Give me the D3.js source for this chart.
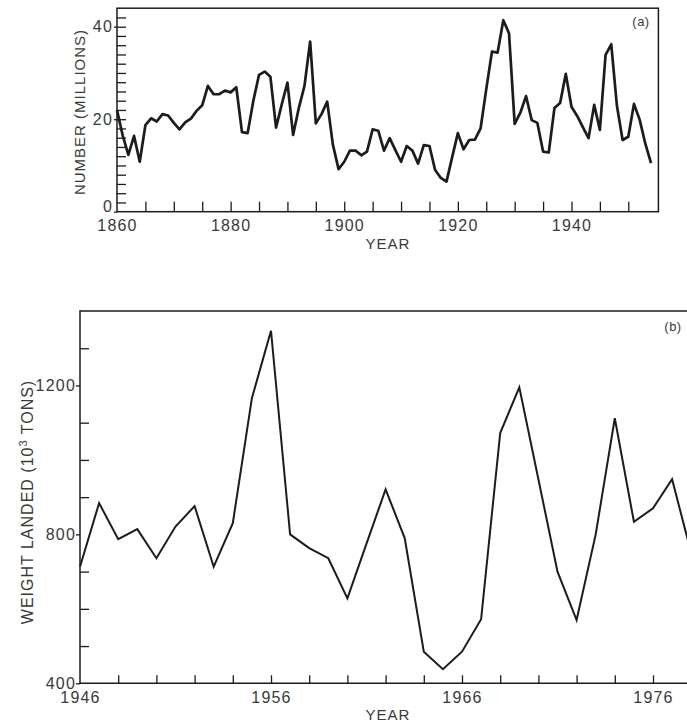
<!DOCTYPE html>
<html><head><meta charset="utf-8">
<script src="https://cdn.jsdelivr.net/npm/d3@7"></script>
<style>
html,body{margin:0;padding:0;background:#fff;}
svg{display:block;}
text{font-family:"Liberation Sans",Arial,Helvetica,sans-serif;fill:#3a3a3a;}
</style></head><body>
<svg id="c" width="687" height="724"></svg>
<script>
// ---------- DATA ----------
// (a) annual number (millions), 1860 onward
const topStartYear = 1860;
const topCounts = [
  22.0, 16.5, 12.3, 16.4, 10.8, 18.7, 20.2, 19.5, 21.1, 20.8,   // 1860-1869
  19.2, 17.8, 19.3, 20.1, 21.8, 23.0, 27.2, 25.4, 25.4, 26.2,   // 1870-1879
  25.8, 26.9, 17.2, 17.0, 24.0, 29.6, 30.3, 29.2, 18.2, 23.2,   // 1880-1889
  27.9, 16.6, 22.4, 27.2, 36.8, 19.1, 21.1, 23.8, 14.5, 9.2,    // 1890-1899
  10.8, 13.2, 13.2, 12.2, 13.0, 17.8, 17.5, 13.2, 15.9, 13.3,   // 1900-1909
  10.8, 14.2, 13.2, 10.4, 14.4, 14.2, 9.0, 7.3, 6.5, 11.8,      // 1910-1919
  17.0, 13.5, 15.5, 15.6, 18.0, 26.5, 34.6, 34.4, 41.4, 38.6,   // 1920-1929
  19.0, 21.4, 25.0, 19.8, 19.2, 13.0, 12.8, 22.4, 23.5, 29.8,   // 1930-1939
  22.7, 20.7, 18.3, 15.9, 23.1, 17.7, 33.9, 36.2, 22.9, 15.5,   // 1940-1949
  16.2, 23.3, 19.9, 14.7, 10.5                                  // 1950-1954
];
const topXTickLabels = [1860, 1880, 1900, 1920, 1940];
const topYTickLabels = [0, 20, 40];

// (b) weight landed (10^3 tons), 1946 onward
const bottomStartYear = 1946;
const bottomWeights = [
  713, 884, 787, 814, 736, 821, 876, 713, 830, 1166,   // 1946-1955
  1347, 800, 763, 736, 628, 775, 921, 790, 485, 438,   // 1956-1965
  485, 572, 1072, 1195, 948, 700, 570, 800, 1112, 834, // 1966-1975
  870, 948, 750                                        // 1976-1978
];
const bottomXTickLabels = [1946, 1956, 1966, 1976];
const bottomYTickLabels = [400, 800, 1200];

// ---------- DRAW ----------
const svg = d3.select("#c");
const ink = "#1c1c1c";
const fs = 16;

function styleAxis(g) {
  g.select(".domain").remove();
  g.selectAll(".tick line").attr("stroke", ink).attr("stroke-width", 1.3);
  g.selectAll(".tick text")
    .attr("fill", "#3a3a3a")
    .style("font-size", fs + "px")
    .style("letter-spacing", "1.2px")
    .style("font-family", '"Liberation Sans", Arial, sans-serif');
}

// ===== Panel (a) =====
const topData = topCounts.map((v, i) => ({ year: topStartYear + i, v }));
const xT = d3.scaleLinear().domain([1860, 1955.3]).range([117, 658.4]);
const yT = d3.scaleLinear().domain([0, 44]).range([211.7, 8.2]);

const gA = svg.append("g");
gA.append("g").attr("transform", `translate(0,${yT(0)})`)
  .call(d3.axisBottom(xT).tickValues(d3.range(1865, 1955, 5)).tickSize(-10).tickFormat(""))
  .call(styleAxis);
gA.append("g").attr("transform", `translate(0,${yT(0)})`)
  .call(d3.axisBottom(xT).tickValues(topXTickLabels).tickSize(0).tickPadding(7.5).tickFormat(d3.format("d")))
  .call(styleAxis);
gA.append("g").attr("transform", `translate(${xT(1860)},0)`)
  .call(d3.axisLeft(yT).tickValues(d3.range(2, 44, 2)).tickSize(-9).tickFormat(""))
  .call(styleAxis);
gA.append("g").attr("transform", `translate(${xT(1860)},0)`)
  .call(d3.axisLeft(yT).tickValues(topYTickLabels).tickSize(3).tickPadding(1).tickFormat(d3.format("d")))
  .call(styleAxis)
  .call(g => g.selectAll(".tick text").filter(d => d === 0).attr("y", -5));

// frame
gA.append("rect")
  .attr("x", xT(1860)).attr("y", yT(44))
  .attr("width", xT(1955.3) - xT(1860)).attr("height", yT(0) - yT(44))
  .attr("fill", "none").attr("stroke", ink).attr("stroke-width", 1.5);

// line
gA.append("path").datum(topData)
  .attr("fill", "none").attr("stroke", ink).attr("stroke-width", 2.7)
  .attr("stroke-linejoin", "round")
  .attr("d", d3.line().x(d => xT(d.year)).y(d => yT(d.v)));

gA.append("text").attr("x", 641).attr("y", 26).attr("text-anchor", "middle")
  .style("font-size", "13px").style("letter-spacing", "0.5px").text("(a)");
gA.append("text").attr("x", 388).attr("y", 249).attr("text-anchor", "middle")
  .style("font-size", "15px").style("letter-spacing", "1px").text("YEAR");
gA.append("text").attr("transform", "translate(85,112) rotate(-90)").attr("text-anchor", "middle")
  .style("font-size", "15px").style("letter-spacing", "1px").text("NUMBER (MILLIONS)");

// ===== Panel (b) =====
const botData = bottomWeights.map((v, i) => ({ year: bottomStartYear + i, v }));
const xB = d3.scaleLinear().domain([1946, 1978]).range([80, 80 + 32 * 19.1]);
const yB = d3.scaleLinear().domain([400, 1400]).range([683.3, 311]);

const gB = svg.append("g");
gB.append("g").attr("transform", `translate(0,${yB(400)})`)
  .call(d3.axisBottom(xB).tickValues(d3.range(1948, 1978, 2)).tickSize(-8).tickFormat(""))
  .call(styleAxis);
gB.append("g").attr("transform", `translate(0,${yB(400)})`)
  .call(d3.axisBottom(xB).tickValues(bottomXTickLabels).tickSize(0).tickPadding(8).tickFormat(d3.format("d")))
  .call(styleAxis);
gB.append("g").attr("transform", `translate(${xB(1946)},0)`)
  .call(d3.axisLeft(yB).tickValues([500, 600, 700, 900, 1000, 1100, 1300]).tickSize(-9).tickFormat(""))
  .call(styleAxis);
gB.append("g").attr("transform", `translate(${xB(1946)},0)`)
  .call(d3.axisLeft(yB).tickValues(bottomYTickLabels).tickSize(4).tickPadding(0).tickFormat(d3.format("d")))
  .call(styleAxis);

// frame (right side runs past the picture edge)
gB.append("path")
  .attr("d", `M${xB(1978) + 6},${yB(1400)}H${xB(1946)}V${yB(400)}H${xB(1978) + 6}`)
  .attr("fill", "none").attr("stroke", ink).attr("stroke-width", 1.5);

gB.append("path").datum(botData)
  .attr("fill", "none").attr("stroke", ink).attr("stroke-width", 2)
  .attr("stroke-linejoin", "miter")
  .attr("d", d3.line().x(d => xB(d.year)).y(d => yB(d.v)));

gB.append("text").attr("x", 673).attr("y", 331).attr("text-anchor", "middle")
  .style("font-size", "13px").style("letter-spacing", "0.5px").text("(b)");
gB.append("text").attr("x", 388).attr("y", 720).attr("text-anchor", "middle")
  .style("font-size", "15px").style("letter-spacing", "1px").text("YEAR");
const yl = gB.append("text").attr("transform", "translate(33,502) rotate(-90)").attr("text-anchor", "middle")
  .style("font-size", "16px").style("letter-spacing", "1px");
yl.append("tspan").text("WEIGHT LANDED (10");
yl.append("tspan").attr("dy", -6).style("font-size", "11px").text("3");
yl.append("tspan").attr("dy", 6).text(" TONS)");
</script>
</body></html>
